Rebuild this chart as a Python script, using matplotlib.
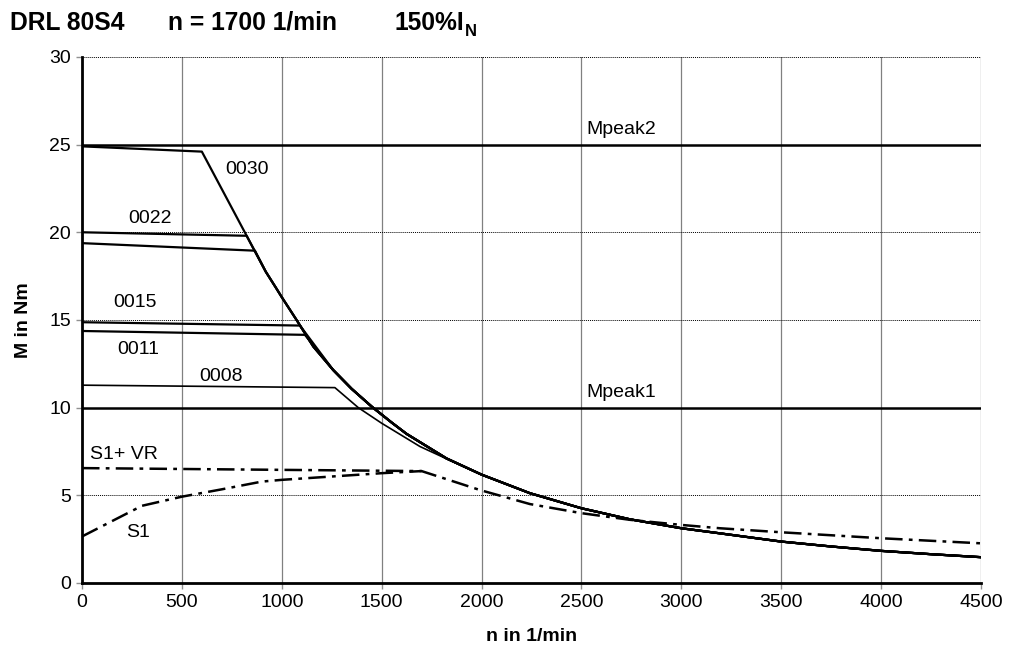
import numpy as np
import matplotlib.pyplot as plt

plt.rcParams['font.family'] = ['Liberation Sans', 'DejaVu Sans']

# torque limit envelope above the knee (n in 1/min, M in Nm)
env_n = [970, 1000, 1074, 1158, 1257, 1350, 1450, 1550, 1625, 1825, 2000,
         2242, 2500, 2743, 3000, 3193, 3500, 3750, 4000, 4250, 4500]
env_m = [16.85, 16.3, 15.0, 13.48, 12.15, 11.07, 10.06, 9.15, 8.5, 7.1, 6.18,
         5.12, 4.26, 3.63, 3.12, 2.83, 2.36, 2.08, 1.83, 1.64, 1.47]

# gear unit curves: flat part up to the knee
c0030_n = [0, 600, 920]
c0030_m = [24.9, 24.6, 17.75]
c0022_n = [0, 824]
c0022_m = [20.0, 19.8]
c0022b_n = [0, 866]
c0022b_m = [19.38, 18.95]
c0015_n = [0, 1091]
c0015_m = [14.87, 14.68]
c0011_n = [0, 1116]
c0011_m = [14.37, 14.15]
c0008_n = [0, 1266, 1383, 1500, 1692, 1850]
c0008_m = [11.28, 11.14, 10.0, 9.11, 7.78, 6.95]

# thermal limits
s1vr_n = [0, 1700, 1992, 2242, 2500, 2743, 3000, 3193, 3500, 4000, 4500]
s1vr_m = [6.55, 6.38, 5.3, 4.5, 3.98, 3.6, 3.31, 3.12, 2.89, 2.55, 2.26]
s1_n = [0, 300, 500, 700, 900, 1000, 1500, 1700]
s1_m = [2.65, 4.4, 4.92, 5.34, 5.78, 5.88, 6.26, 6.38]

mpeak1 = 10
mpeak2 = 25

fig = plt.figure(figsize=(10.25, 6.47), dpi=100)
ax = fig.add_axes([0.080, 0.099, 0.877, 0.813])

k = dict(color='black', lw=1.6, solid_joinstyle='round')
ax.plot(c0030_n + env_n, c0030_m + env_m, **k)
for cn, cm in [(c0022_n, c0022_m), (c0022b_n, c0022b_m)]:
    # flat part, then down the 0030 slope to the envelope
    ax.plot(cn + [920] + env_n, cm + [17.75] + env_m, **k)
for cn, cm in [(c0015_n, c0015_m), (c0011_n, c0011_m)]:
    ax.plot(cn + env_n[4:], cm + env_m[4:], **k)
ax.plot(c0008_n + env_n[10:], c0008_m + env_m[10:], color='black', lw=1.2,
        solid_joinstyle='round')

ax.axhline(mpeak2, color='black', lw=1.8)
ax.axhline(mpeak1, color='black', lw=1.8)

dd = (0, (7, 2.5, 1.5, 2.5))
ax.plot(s1vr_n, s1vr_m, color='black', lw=1.8, linestyle=dd)
ax.plot(s1_n, s1_m, color='black', lw=1.8, linestyle=dd)

fs = 14
ax.text(2700, 25.35, 'Mpeak2', fontsize=fs, ha='center', va='bottom')
ax.text(2700, 10.35, 'Mpeak1', fontsize=fs, ha='center', va='bottom')
ax.text(826, 23.6, '0030', fontsize=fs, ha='center', va='center')
ax.text(340, 20.8, '0022', fontsize=fs, ha='center', va='center')
ax.text(265, 16.0, '0015', fontsize=fs, ha='center', va='center')
ax.text(280, 13.3, '0011', fontsize=fs, ha='center', va='center')
ax.text(695, 11.8, '0008', fontsize=fs, ha='center', va='center')
ax.text(210, 7.3, 'S1+ VR', fontsize=fs, ha='center', va='center')
ax.text(280, 2.85, 'S1', fontsize=fs, ha='center', va='center')

ax.set_xlim(0, 4500)
ax.set_ylim(0, 30)
ax.set_xticks(np.arange(0, 4501, 500))
ax.set_yticks(np.arange(0, 31, 5))
ax.tick_params(labelsize=14, length=4, width=1, color='#909090',
               direction='out', pad=4)
ax.grid(axis='x', color='#808080', lw=0.9)
ax.grid(axis='y', color='black', lw=0.7, linestyle=(0, (1, 1)))
ax.set_axisbelow(True)
for s in ['top', 'right']:
    ax.spines[s].set_visible(False)
for s in ['left', 'bottom']:
    ax.spines[s].set_linewidth(2)

ax.set_xlabel('n in 1/min', fontsize=14, fontweight='bold', labelpad=12)
ax.set_ylabel('M in Nm', fontsize=14, fontweight='bold', labelpad=12)

tk = dict(fontsize=17.7, fontweight='bold', va='baseline')
fig.text(10 / 1025, 1 - 30 / 647, 'DRL 80S4', **tk)
fig.text(168 / 1025, 1 - 30 / 647, 'n = 1700 1/min', **tk)
fig.text(395 / 1025, 1 - 30 / 647, '150%I', **tk)
fig.text(465 / 1025, 1 - 36 / 647, 'N', fontsize=12, fontweight='bold', va='baseline')

fig.savefig('out.png', dpi=100)
